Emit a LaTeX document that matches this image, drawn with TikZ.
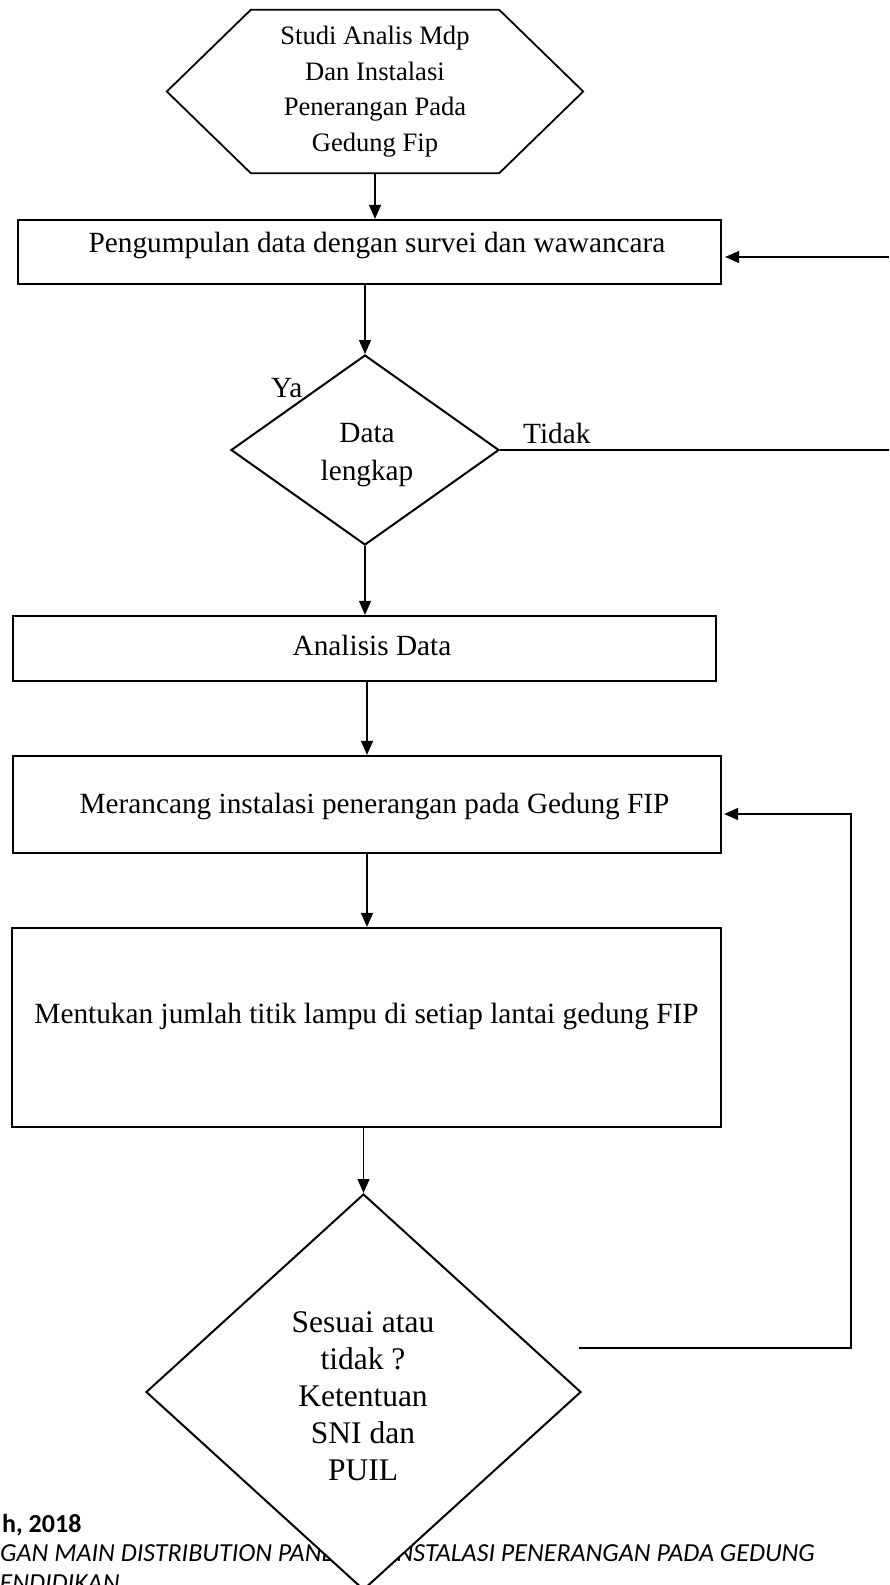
\documentclass[tikz,border=0pt]{standalone}
\usepackage{fontspec}
\setmainfont{Liberation Serif}
\newfontfamily\carlito{Carlito}
\usetikzlibrary{shapes.geometric,arrows.meta,calc}
\newcommand\bxfont{\fontsize{29.3bp}{35bp}\selectfont}
\newcommand\hxfont{\fontsize{26.6bp}{35.7bp}\selectfont}
\newcommand\dafont{\fontsize{29.3bp}{38bp}\selectfont}
\newcommand\dbfont{\fontsize{31.5bp}{37bp}\selectfont}
\newcommand\ftfont{\carlito\fontsize{26bp}{30bp}\selectfont}
\begin{document}
\begin{tikzpicture}[x=1bp,y=-1bp,
  box/.style={draw, line width=2.2bp, inner sep=0pt, fill=white},
  dec/.style={draw, diamond, line width=2bp, inner sep=0pt, fill=white},
  arr/.style={line width=1.3bp, -{Triangle[length=14bp,width=12bp]}},
  lin/.style={line width=1.3bp},
  lbl/.style={inner sep=0pt, font=\bxfont},
  foot/.style={inner sep=0pt, font=\ftfont}
]
\useasboundingbox (0,0) rectangle (889,1585);
\fill[white] (0,0) rectangle (889,1585);

% footer text of the underlying page
\node[foot, anchor=base west, font=\ftfont\bfseries] (f1) at (2,1532) {h, 2018};
\node[foot, anchor=base west] (f2) at (0,1561) {\itshape GAN MAIN DISTRIBUTION PANEL};
\node[foot, anchor=base east] (f3) at (815,1561) {\itshape INSTALASI PENERANGAN PADA GEDUNG};
\node[foot, anchor=base west] (f4) at (-14,1591) {\itshape PENDIDIKAN};

% hexagon
\node[inner sep=0pt, minimum width=248bp, minimum height=163bp, align=center, font=\hxfont] (hx) at (375,91.5)
  {Studi Analis Mdp\\Dan Instalasi\\Penerangan Pada\\Gedung Fip};
\draw[line width=1.8bp, line join=miter] (hx.north west) -- (hx.north east) -- ($(hx.east)+(84,0)$)
  -- (hx.south east) -- (hx.south west) -- ($(hx.west)-(84,0)$) -- cycle;

% boxes
\node[box, minimum width=703bp, minimum height=64bp] (b1) at (369.5,252) {};
\node[lbl, anchor=base] (b1t) at (377,252) {Pengumpulan data dengan survei dan wawancara};

\node[dec, minimum width=268bp, minimum height=190bp] (d1) at (365,450) {};
\node[lbl, align=center, font=\dafont] (d1t) at (367,455.5) {Data\\lengkap};
\node[lbl, anchor=base west] (ya) at (271,397) {Ya};
\node[lbl, anchor=base west] (td) at (523,443) {Tidak};

\node[box, minimum width=703bp, minimum height=65bp] (b2) at (364.5,648.5) {};
\node[lbl, anchor=base] (b2t) at (372,655) {Analisis Data};

\node[box, minimum width=708bp, minimum height=97bp] (b3) at (367,804.5) {};
\node[lbl, anchor=base] (b3t) at (374.5,813) {Merancang instalasi penerangan pada Gedung FIP};

\node[box, minimum width=709bp, minimum height=199bp] (b4) at (366.5,1027.5) {};
\node[lbl, anchor=base] (b4t) at (366.5,1023) {Mentukan jumlah titik lampu di setiap lantai gedung FIP};

\node[dec, minimum width=435bp, minimum height=396bp] (d2) at (363.5,1392) {};
\node[lbl, align=center, font=\dbfont] (d2t) at (363,1396) {Sesuai atau\\tidak ?\\Ketentuan\\SNI dan\\PUIL};

% free ends of connectors
\coordinate (r1) at (889,257);
\coordinate (r2) at (889,450);
\coordinate (r3) at (579,1348);
\coordinate (c1) at (851,1348);
\coordinate (c2) at (851,814);

% connectors
\draw[arr] (hx.south) -- (hx.south |- b1.north);
\draw[arr, line width=1.1bp, shorten >=3bp] (r1) -- (r1 -| b1.east);
\draw[arr] (d1.north |- b1.south) -- (d1.north);
\draw[lin, line width=1.8bp] (d1.east) -- (r2);
\draw[arr] (d1.south) -- (d1.south |- b2.north);
\draw[arr] (b3.north |- b2.south) -- (b3.north);
\draw[arr] (b3.south) -- (b3.south |- b4.north);
\draw[arr] (d2.north |- b4.south) -- (d2.north);
\draw[arr, line width=1.5bp, shorten >=2bp] (r3) -- (c1) -- (c2) -- (c2 -| b3.east);
\end{tikzpicture}
\end{document}
